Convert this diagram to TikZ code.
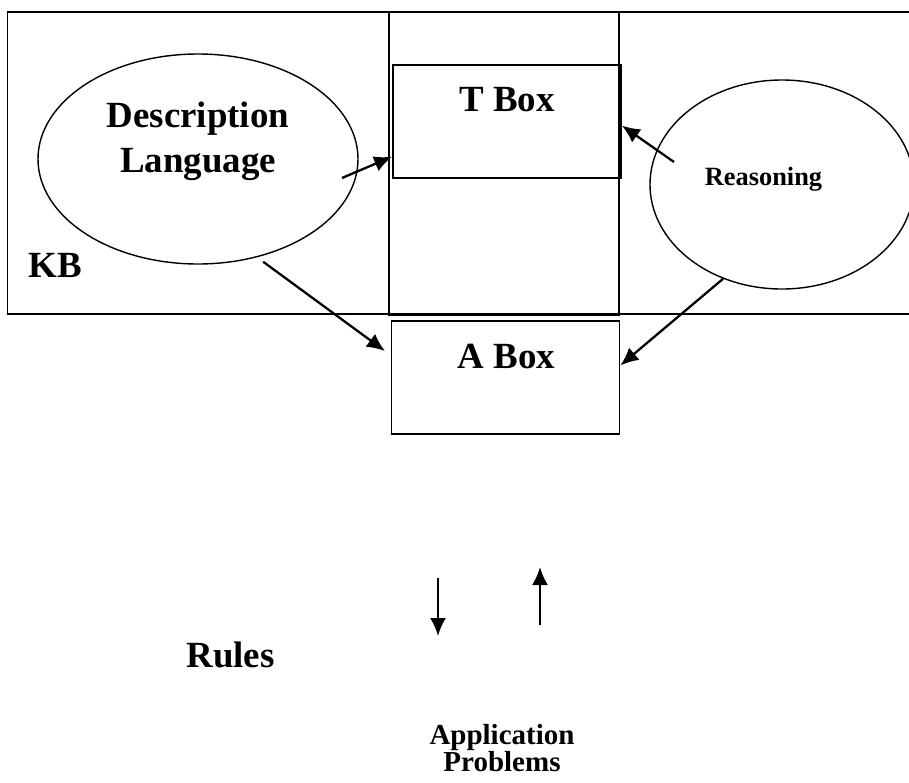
\documentclass[tikz,border=0pt]{standalone}
\usepackage{fontspec}
\setmainfont{Liberation Serif}
\usetikzlibrary{shapes.geometric,arrows.meta}

\tikzset{
		box/.style={draw, line width=1pt, minimum width=4.56cm, minimum height=2.26cm, inner sep=0pt},
		oval/.style={draw, ellipse, line width=0.8pt, inner sep=0pt},
		big/.style={font=\bfseries\fontsize{21}{25.6}\selectfont, inner sep=0pt, align=center},
		small/.style={font=\bfseries\fontsize{15}{18}\selectfont, inner sep=0pt},
		arrow/.style={-{Latex[length=3.6mm,width=3.2mm]}, line width=1.3pt}
	}

\begin{document}
\begin{tikzpicture}

\clip (0,0) rectangle (18.18,-15.64);

% knowledge base frame and the middle column
\node (kb) at (9.3,-3.26) [draw, line width=1pt, minimum width=18.3cm, minimum height=6.04cm] {};
\node (col) at (10.08,-3.27) [draw, line width=1pt, minimum width=4.6cm, minimum height=6.06cm] {};

\node (tbox) at (10.14,-2.43) [box] {};
\node (abox) at (10.11,-7.55) [box] {};

\node (dl) at (3.96,-3.18) [oval, minimum width=6.4cm, minimum height=4.2cm] {};
\node (rs) at (15.64,-3.69) [oval, minimum width=5.28cm, minimum height=4.18cm] {};

% texts
\node (dltext) at (3.96,-2.04) [big, anchor=north] {Description\\Language};
\node (ttext) at (10.14,-2.22) [big, anchor=base] {T Box};
\node (atext) at (10.13,-7.36) [big, anchor=base] {A Box};
\node (rstext) at (15.27,-3.70) [small, anchor=base] {Reasoning};
\node (kbtext) at (1.10,-5.54) [big, anchor=base] {KB};
\node (rules) at (4.61,-13.34) [big, anchor=base] {Rules};
\node (app) at (10.04,-14.48) [anchor=north, inner sep=0pt, align=center, font=\bfseries\fontsize{16.5}{15.4}\selectfont] {Application\\Problems};

% arrows
\coordinate (dlout) at (6.84,-3.56);
\coordinate (rsout) at (13.48,-3.24);
\draw [arrow] (dlout) to (tbox.197);
\draw [arrow] (rsout) to (tbox.-2);
\draw [arrow, shorten <=0.15cm, shorten >=0.14cm] (dl.-59) to (abox.169);
\draw [arrow] (rs.238) to (abox.6);

\coordinate (downtop) at (8.76,-11.56);
\coordinate (downend) at (8.76,-12.72);
\coordinate (upbot) at (10.8,-12.5);
\coordinate (uptop) at (10.8,-11.34);
\draw [arrow] (downtop) to (downend);
\draw [arrow] (upbot) to (uptop);

\end{tikzpicture}
\end{document}
